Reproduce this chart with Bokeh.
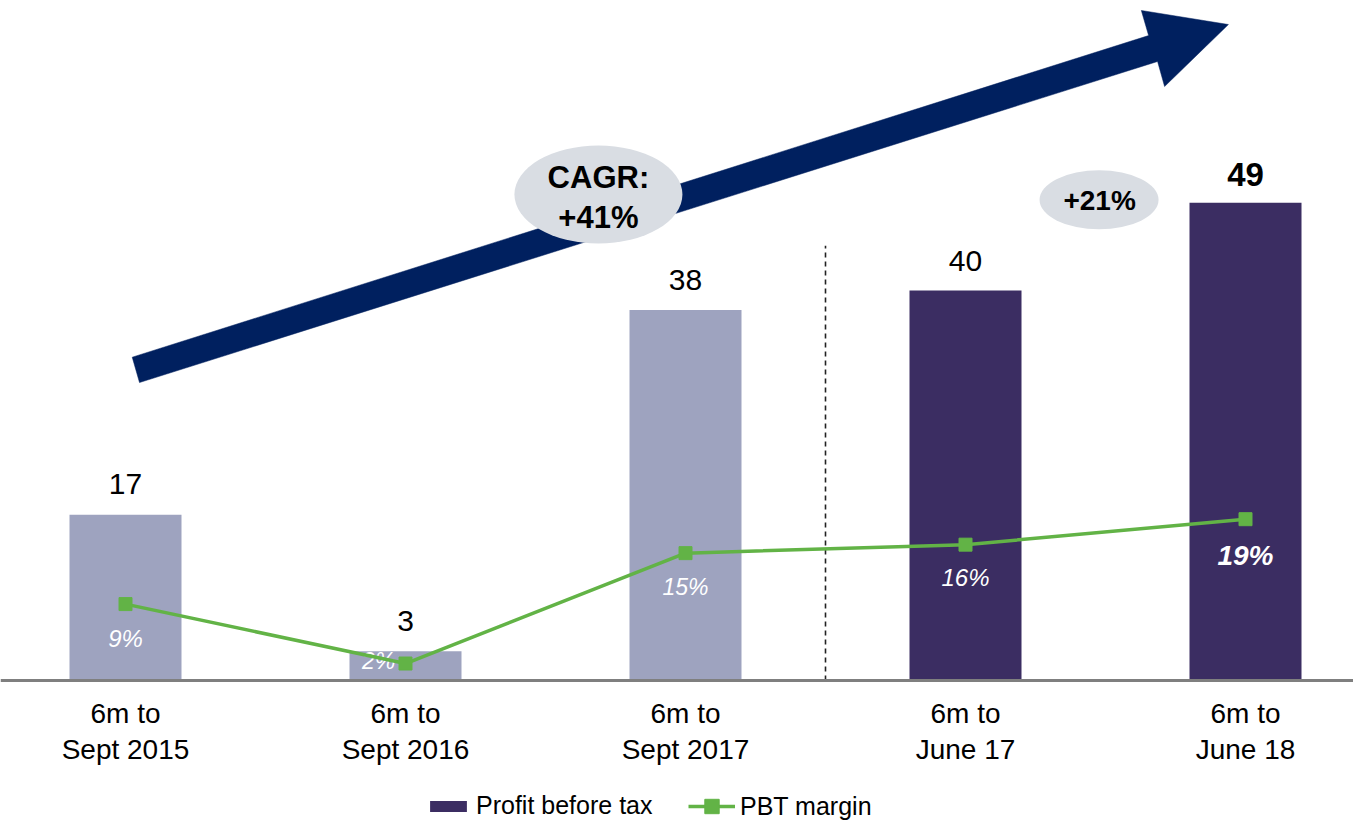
from bokeh.plotting import figure
from bokeh.models import ColumnDataSource, Range1d, Legend, LegendItem, Span
from bokeh.core.properties import value, field
from bokeh.embed import file_html
from bokeh.resources import INLINE

# ---------------- data ----------------
periods = ["6m to\nSept 2015", "6m to\nSept 2016", "6m to\nSept 2017", "6m to\nJune 17", "6m to\nJune 18"]
pbt = [17, 3, 38, 40, 49]            # Profit before tax
margin = [9, 2, 15, 16, 19]          # PBT margin, %
current = [False, False, False, True, True]   # last two periods: current reporting basis
cagr_text = "CAGR:\n+41%"
growth_text = "+21%"

# ---------------- styles ----------------
FONT = "Liberation Sans"
LIGHT = "#9ea3bf"
DARK = "#3b2d62"
GREEN = "#62b346"
NAVY = "#00205f"
BUBBLE = "#d9dde3"

W, H = 1353, 822
BASE_PX = 680           # baseline position from top
PX_PER_UNIT = 9.75      # bar scale (px per unit)
PX_PER_PCT = 8.49       # margin scale (px per %)
PX_PER_CAT = 280.0
FIRST_CAT_PX = 125.0

xs = list(range(len(periods)))

p = figure(width=W, height=H,
           x_range=Range1d(-FIRST_CAT_PX / PX_PER_CAT, (W - FIRST_CAT_PX) / PX_PER_CAT),
           y_range=Range1d(-(H - BASE_PX) / PX_PER_UNIT, BASE_PX / PX_PER_UNIT),
           output_backend="svg", toolbar_location=None,
           min_border_left=0, min_border_right=0, min_border_top=0, min_border_bottom=0,
           x_axis_location=None, y_axis_location=None)
p.extra_y_ranges = {"pct": Range1d(-(H - BASE_PX) / PX_PER_PCT, BASE_PX / PX_PER_PCT)}
p.grid.visible = False
p.outline_line_color = None
p.background_fill_color = "white"
p.border_fill_color = "white"

# ---------------- arrow (decoration) ----------------
ARROW_X = [0.024, 3.654, 3.628, 3.939, 3.711, 3.686, 0.050]
ARROW_Y = [33.16, 66.15, 68.72, 67.28, 60.92, 63.49, 30.56]
p.patch(ARROW_X, ARROW_Y, fill_color=NAVY, line_color=NAVY, line_width=0.5)

# ---------------- bars ----------------
prior_idx = [i for i in xs if not current[i]]
cur_idx = [i for i in xs if current[i]]
src_prior = ColumnDataSource(dict(x=prior_idx, top=[pbt[i] for i in prior_idx]))
src_cur = ColumnDataSource(dict(x=cur_idx, top=[pbt[i] for i in cur_idx]))
p.vbar(x="x", top="top", bottom=0, width=0.4, source=src_prior, fill_color=LIGHT, line_color=None)
dark_bars = p.vbar(x="x", top="top", bottom=0, width=0.4, source=src_cur, fill_color=DARK, line_color=None)

# category axis line
p.add_layout(Span(location=0, dimension="width", line_color="#7f7f7f", line_width=3))

# divider between the two period bases
p.segment(x0=[2.5], y0=[0], x1=[2.5], y1=[44.6], line_color="#222222", line_width=1.6, line_dash="5 4")

# category labels
p.text(x=xs, y=[-5.2] * len(xs), text=periods, text_font=value(FONT), text_font_size="28px",
       text_align="center", text_baseline="middle", text_line_height=1.16, text_color="black")

# ---------------- bubbles ----------------
p.ellipse(x=[1.689], y=[49.85], width=168, height=98, width_units="screen", height_units="screen",
          fill_color=BUBBLE, line_color=None)
p.ellipse(x=[3.477], y=[49.3], width=119, height=59, width_units="screen", height_units="screen",
          fill_color=BUBBLE, line_color=None)
p.text(x=[1.689], y=[49.54], text=[cagr_text], text_font=value(FONT), text_font_size="31px",
       text_font_style="bold", text_align="center", text_baseline="middle", text_line_height=1.15,
       text_color="black")
p.text(x=[3.479], y=[49.2], text=[growth_text], text_font=value(FONT), text_font_size="28px",
       text_font_style="bold", text_align="center", text_baseline="middle", text_color="black")

# ---------------- value labels ----------------
VAL_STYLE = ["normal", "normal", "normal", "normal", "bold"]
VAL_SIZE = ["30px", "30px", "30px", "30px", "33px"]
VAL_GAP_PX = [31, 30, 30, 30, 28]
val_src = ColumnDataSource(dict(
    x=xs, y=[v + g / PX_PER_UNIT for v, g in zip(pbt, VAL_GAP_PX)], text=[str(v) for v in pbt],
    style=VAL_STYLE, size=VAL_SIZE))
p.text(x="x", y="y", text="text", source=val_src, text_font=value(FONT), text_font_size=field("size"),
       text_font_style=field("style"), text_align="center", text_baseline="alphabetic", text_color="black")

# ---------------- margin labels ----------------
M_DX_PX = [0, -27, 0, 0, 0]
M_DY_PX = [34, -3, 34, 33, 36]
M_STYLE = ["italic", "italic", "italic", "italic", "bold italic"]
M_SIZE = ["24px", "23px", "23px", "24px", "28px"]
m_src = ColumnDataSource(dict(
    x=[i + dx / PX_PER_CAT for i, dx in zip(xs, M_DX_PX)],
    y=[m - dy / PX_PER_PCT for m, dy in zip(margin, M_DY_PX)],
    text=[f"{m}%" for m in margin], style=M_STYLE, size=M_SIZE))
p.text(x="x", y="y", text="text", source=m_src, y_range_name="pct", text_font=value(FONT),
       text_font_size=field("size"), text_font_style=field("style"), text_align="center",
       text_baseline="middle", text_color="white")

# ---------------- margin line ----------------
line_src = ColumnDataSource(dict(x=xs, y=margin))
line_r = p.line(x="x", y="y", source=line_src, y_range_name="pct", line_color=GREEN, line_width=3.5)
scat_r = p.scatter(x="x", y="y", source=line_src, y_range_name="pct", marker="square", size=13,
                   fill_color=GREEN, line_color=GREEN)

# ---------------- legends ----------------
leg1 = Legend(items=[LegendItem(label="Profit before tax", renderers=[dark_bars])],
              location=(425, 2), glyph_width=46, glyph_height=14, label_standoff=5,
              padding=0, margin=0, spacing=0, border_line_color=None, background_fill_alpha=0,
              label_text_font=FONT, label_text_font_size="25px", label_text_color="black",
              label_height=14)
leg2 = Legend(items=[LegendItem(label="PBT margin", renderers=[line_r, scat_r])],
              location=(688, -2), glyph_width=47, glyph_height=36, label_standoff=5,
              padding=0, margin=0, spacing=0, border_line_color=None, background_fill_alpha=0,
              label_text_font=FONT, label_text_font_size="25px", label_text_color="black",
              label_height=14)
p.add_layout(leg1)
p.add_layout(leg2)

open("out.html", "w").write(file_html(p, INLINE))
